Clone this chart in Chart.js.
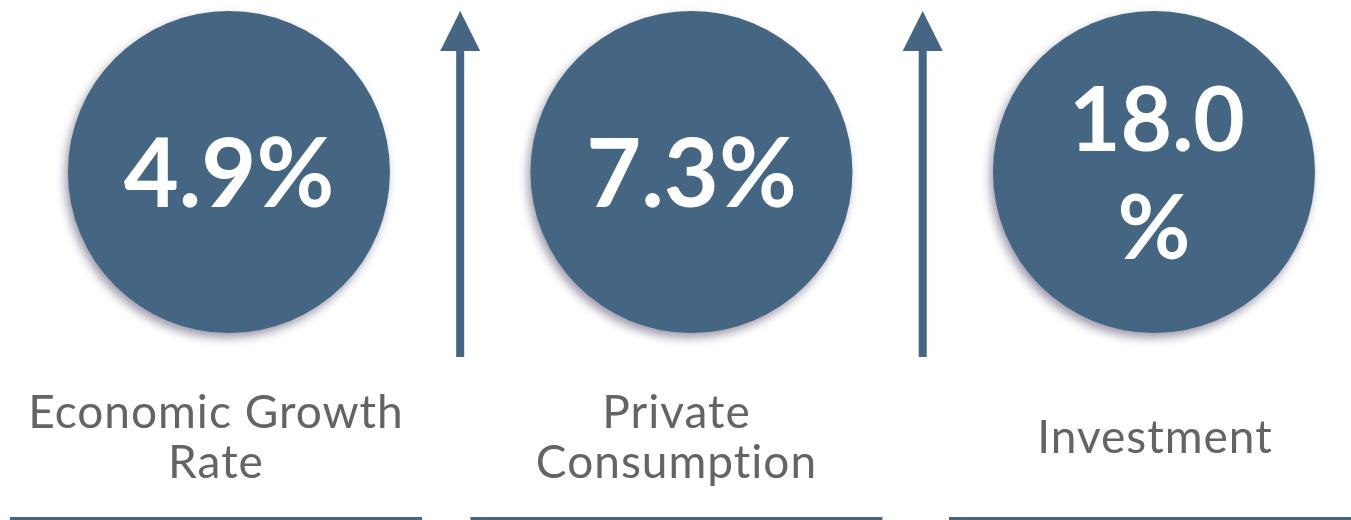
<!DOCTYPE html>
<html>
<head>
<meta charset="utf-8">
<script src="https://cdn.jsdelivr.net/npm/chart.js@4.4.1/dist/chart.umd.min.js"></script>
<style>
  html, body { margin: 0; padding: 0; background: #ffffff; }
  canvas { display: block; }
</style>
</head>
<body>
<canvas id="graphique" width="1351" height="520"></canvas>
<script>
// Données de l'infographie
const categories = [['Economic Growth', 'Rate'], ['Private', 'Consumption'], ['Investment']];
const values = [4.9, 7.3, 18.0];
const valueSuffix = '%';

// Styles
const bleu = '#446682';
const gris = '#646464';
const rayonCercle = 161;
const policeValeur = '700 95px Lato';
const policeValeurCoupee = '700 89px Lato';
const policeLibelle = '400 46px Lato';
const largeurMaxValeur = 240;   // au-delà, le "%" passe à la ligne
const decalageLibelle = [-13, -15, 1];

const ctxCanvas = document.getElementById('graphique').getContext('2d');

// Ombre portée des cercles
const ombrePlugin = {
  id: 'ombre',
  beforeDatasetDraw(chart) {
    const ctx = chart.ctx;
    ctx.save();
    ctx.shadowColor = 'rgba(45, 35, 70, 0.45)';
    ctx.shadowBlur = 10;
    ctx.shadowOffsetX = -3;
    ctx.shadowOffsetY = 5;
  },
  afterDatasetDraw(chart) {
    chart.ctx.restore();
  }
};

// Textes, flèches et filets
const decorPlugin = {
  id: 'decor',
  afterDatasetsDraw(chart) {
    const ctx = chart.ctx;
    const x = chart.scales.x;
    const y = chart.scales.y;
    const cy = y.getPixelForValue(0);
    const area = chart.chartArea;

    ctx.save();
    ctx.textAlign = 'center';
    ctx.textBaseline = 'alphabetic';

    // valeurs dans les cercles
    ctx.fillStyle = '#ffffff';
    values.forEach((v, i) => {
      const cx = x.getPixelForValue(i);
      const texte = v.toFixed(1) + valueSuffix;
      ctx.font = policeValeur;
      if (ctx.measureText(texte).width > largeurMaxValeur) {
        ctx.font = policeValeurCoupee;
        ctx.fillText(v.toFixed(1), cx + 3, cy + 33 - 54);
        ctx.fillText(valueSuffix, cx, cy + 33 + 54);
      } else {
        ctx.fillText(texte, cx, cy + 35);
      }
    });

    // flèches entre les cercles
    ctx.fillStyle = bleu;
    for (let i = 0; i < values.length - 1; i++) {
      const ax = x.getPixelForValue(i + 0.5);
      const pointe = area.top + 11;
      const base = pointe + 40;
      ctx.fillRect(ax - 4, base - 1, 8, 357 - base + 1);
      ctx.beginPath();
      ctx.moveTo(ax, pointe);
      ctx.lineTo(ax + 20, base);
      ctx.lineTo(ax - 20, base);
      ctx.closePath();
      ctx.fill();
    }

    // libellés et filets
    ctx.font = policeLibelle;
    ctx.letterSpacing = '1px';   // élargit un peu et évite la ligature "ti"
    categories.forEach((lignes, i) => {
      const lx = x.getPixelForValue(i) + decalageLibelle[i];
      ctx.fillStyle = gris;
      const debut = 453 - (lignes.length - 1) * 25;
      lignes.forEach((l, j) => ctx.fillText(l, lx, debut + j * 50));
      ctx.fillStyle = bleu;
      ctx.fillRect(lx - 206, 517, 412, 4);
    });
    ctx.restore();
  }
};

new Chart(ctxCanvas, {
  type: 'scatter',
  data: {
    labels: categories.map(c => c.join(' ')),
    datasets: [{
      data: values.map((v, i) => ({ x: i, y: 0 })),
      backgroundColor: bleu,
      borderWidth: 0,
      pointRadius: rayonCercle,
      pointHoverRadius: rayonCercle,
      clip: false
    }]
  },
  options: {
    responsive: false,
    animation: false,
    events: [],
    devicePixelRatio: 1,
    layout: { autoPadding: false, padding: { top: 0, left: 0, right: 0, bottom: 176 } },
    scales: {
      x: { type: 'linear', min: -0.495, max: 2.426, display: false },
      y: { min: -1, max: 1, display: false }
    },
    plugins: {
      legend: { display: false },
      tooltip: { enabled: false }
    }
  },
  plugins: [ombrePlugin, decorPlugin]
});
</script>
</body>
</html>
